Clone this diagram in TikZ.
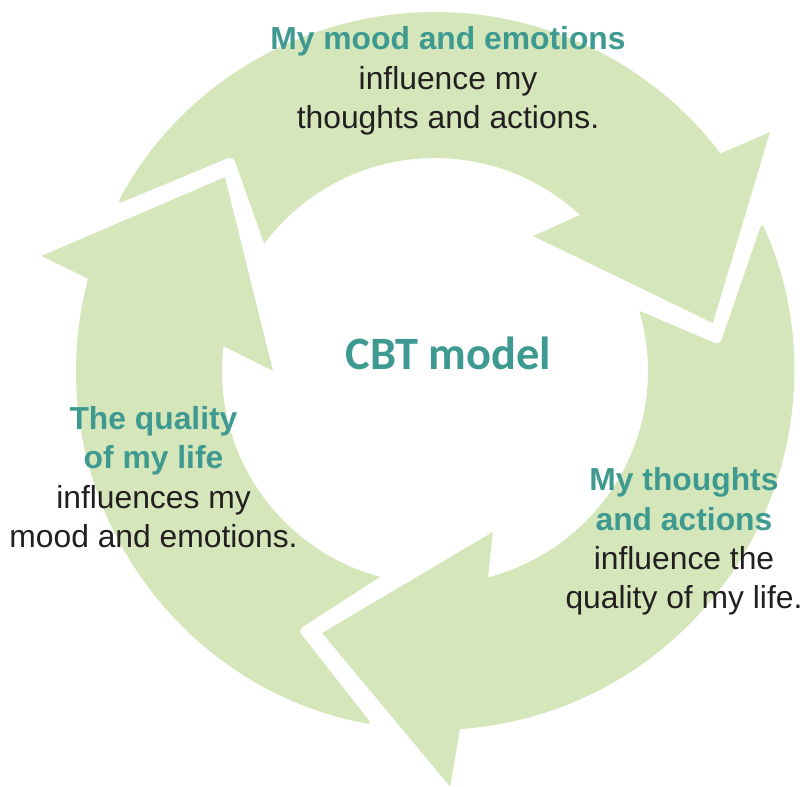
\documentclass[tikz,border=0pt]{standalone}
\usepackage{fontspec}
\setmainfont{Liberation Sans}
\newfontfamily\titlefont{Carlito}
\definecolor{ringgreen}{HTML}{D4E6BA}
\definecolor{cbtteal}{HTML}{3E9A90}
\definecolor{bodyblack}{HTML}{231F20}
\tikzset{
	arrowpiece/.style={fill=ringgreen,draw=none},
	blocktext/.style={align=center,text=bodyblack,inner sep=0pt,
		font=\fontsize{18.1}{22.4}\selectfont},
	titletext/.style={text=cbtteal,inner sep=0pt,
		font=\titlefont\fontsize{26.4}{30}\selectfont\bfseries},
}
\newcommand{\tealbold}[1]{\textcolor{cbtteal}{\textbf{#1}}}
\begin{document}
\begin{tikzpicture}
	\useasboundingbox (-8.70,-8.32) rectangle (7.40,7.42);
	% top arrow
	\fill[arrowpiece] (152.3:7.18) arc[start angle=152.3,end angle=37.3,radius=7.18]
		-- (35.5:8.23) -- (9.8:5.64) -- (54.0:3.336) -- (47.1:4.26)
		arc[start angle=47.1,end angle=143.3,radius=4.26]
		[rounded corners=3pt] -- (133.2:5.90) -- cycle;
	% right arrow
	\fill[arrowpiece] (24.4:7.18) arc[start angle=24.4,end angle=-86,radius=7.18]
		-- (-87.9:8.32) -- (-113.3:5.706) -- (-70.2:3.42) -- (-75.6:4.26)
		arc[start angle=-75.6,end angle=16.4,radius=4.26]
		[rounded corners=3pt] -- (5.2:5.72) -- cycle;
	% left arrow
	\fill[arrowpiece] (259.9:7.18) arc[start angle=259.9,end angle=165.1,radius=7.18]
		-- (163.7:8.20) -- (137.3:5.718) -- (180:3.24) -- (173.3:4.26)
		arc[start angle=173.3,end angle=255.1,radius=4.26]
		[rounded corners=3pt] -- (242.1:5.86) -- cycle;
	\node[titletext] (cbt) at (0.27,0.36) {CBT model};
	\node[blocktext] (moodtext) at (0.26,5.80)
		{\tealbold{My mood and emotions}\\influence my\\thoughts and actions.};
	\node[blocktext] (thoughtstext) at (4.98,-3.41)
		{\tealbold{My thoughts}\\\tealbold{and actions}\\influence the\\quality of my life.};
	\node[blocktext] (lifetext) at (-5.63,-2.12)
		{\tealbold{The quality}\\\tealbold{of my life}\\influences my\\mood and emotions.};
\end{tikzpicture}
\end{document}
